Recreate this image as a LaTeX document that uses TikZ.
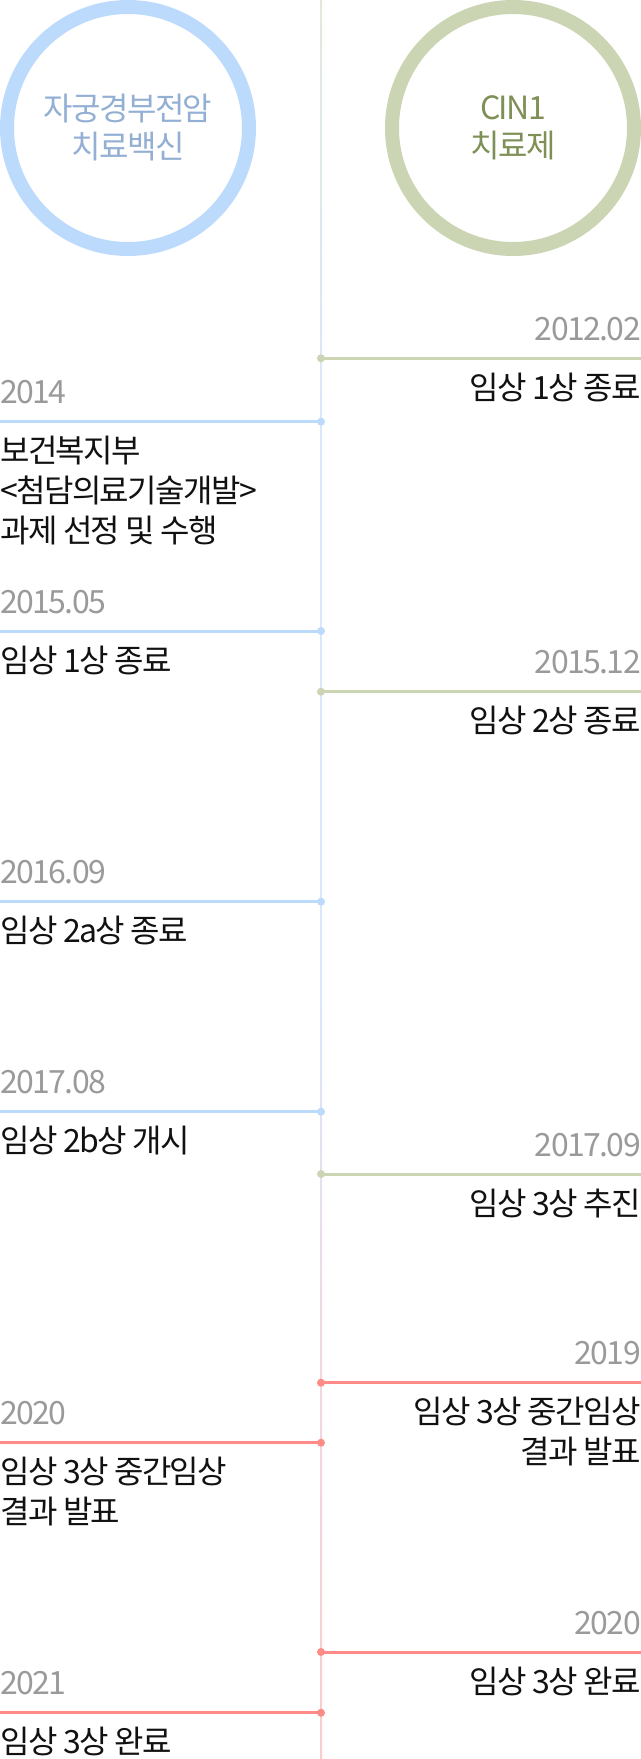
\documentclass[tikz,border=0pt]{standalone}
\usepackage{fontspec}
\setmainfont{Noto Sans CJK KR}[LetterSpace=-5]
\definecolor{vacblue}{HTML}{BCDAFB}
\definecolor{cingreen}{HTML}{CBD5B3}
\definecolor{p3red}{HTML}{FF8B86}
\definecolor{vactext}{HTML}{93AFD3}
\definecolor{cintext}{HTML}{7E9055}
\definecolor{dategray}{HTML}{9A9A9A}
\definecolor{evblack}{HTML}{111111}
\definecolor{axtop}{HTML}{E2E9DC}
\definecolor{axblue}{HTML}{D9E8FB}
\definecolor{axlilac}{HTML}{EEDAE6}
\definecolor{axpink}{HTML}{FBCDCD}
\begin{document}
\begin{tikzpicture}[x=0.75pt, y=-0.75pt,
    vacline/.style={draw=vacblue, line width=2.25pt},
    cinline/.style={draw=cingreen, line width=2.25pt},
    redline/.style={draw=p3red, line width=2.25pt},
    datelbl/.style={font=\fontsize{24}{28}\selectfont, text=dategray, inner sep=0pt},
    evtext/.style={font=\fontsize{24}{30}\selectfont, text=evblack, inner sep=0pt},
    ring/.style={circle, line width=10.5pt, minimum size=181.5pt, inner sep=0pt,
      align=center, font=\fontsize{24}{28.5}\selectfont}]
  \useasboundingbox (0,0) rectangle (641,1759);
  % Central axis (colour fades from top to bottom)
  \shade[top color=axtop, bottom color=axblue] (320,0) rectangle (322,420);
  \fill[axblue] (320,420) rectangle (322,1000);
  \shade[top color=axblue, bottom color=axlilac] (320,1000) rectangle (322,1300);
  \shade[top color=axlilac, bottom color=axpink] (320,1300) rectangle (322,1759);
  % Headers
  \node[ring, draw=vacblue, text=vactext] (vaccine) at (128,128) {자궁경부전암\\치료백신};
  \node[ring, draw=cingreen, text=cintext] (cin) at (513,128) {CIN1\\치료제};
  % Left column: 2014 (base = last line)
  \coordinate (l14a) at (0,421.7); \coordinate (l14b) at (321,421.7);
  \draw[vacline] (l14a) -- (l14b); \fill[vacblue] (l14b) circle (3pt);
  \node[datelbl, anchor=base west] (d14) at (0,403.7) {2014};
  \node[evtext, anchor=base west, align=left] (t14) at (0,542.7) {보건복지부\\<첨담의료기술개발>\\과제 선정 및 수행};
  % Left column: 2015.05
  \coordinate (l155a) at (0,631); \coordinate (l155b) at (321,631);
  \draw[vacline] (l155a) -- (l155b); \fill[vacblue] (l155b) circle (3pt);
  \node[datelbl, anchor=base west] (d155) at (0,613) {2015.05};
  \node[evtext, anchor=base west] (t155) at (0,672) {임상 1상 종료};
  % Left column: 2016.09
  \coordinate (l169a) at (0,901.7); \coordinate (l169b) at (321,901.7);
  \draw[vacline] (l169a) -- (l169b); \fill[vacblue] (l169b) circle (3pt);
  \node[datelbl, anchor=base west] (d169) at (0,883.7) {2016.09};
  \node[evtext, anchor=base west] (t169) at (0,942.7) {임상 2a상 종료};
  % Left column: 2017.08
  \coordinate (l178a) at (0,1111.7); \coordinate (l178b) at (321,1111.7);
  \draw[vacline] (l178a) -- (l178b); \fill[vacblue] (l178b) circle (3pt);
  \node[datelbl, anchor=base west] (d178) at (0,1093.7) {2017.08};
  \node[evtext, anchor=base west] (t178) at (0,1152.7) {임상 2b상 개시};
  % Left column: 2020
  \coordinate (l20a) at (0,1442.7); \coordinate (l20b) at (321,1442.7);
  \draw[redline] (l20a) -- (l20b); \fill[p3red] (l20b) circle (3pt);
  \node[datelbl, anchor=base west] (d20) at (0,1424.7) {2020};
  \node[evtext, anchor=base west, align=left] (t20) at (0,1523.7) {임상 3상 중간임상\\결과 발표};
  % Left column: 2021
  \coordinate (l21a) at (0,1712.7); \coordinate (l21b) at (321,1712.7);
  \draw[redline] (l21a) -- (l21b); \fill[p3red] (l21b) circle (3pt);
  \node[datelbl, anchor=base west] (d21) at (0,1694.7) {2021};
  \node[evtext, anchor=base west] (t21) at (0,1753.7) {임상 3상 완료};
  % Right column: 2012.02
  \coordinate (r122a) at (321,358.3); \coordinate (r122b) at (641,358.3);
  \draw[cinline] (r122a) -- (r122b); \fill[cingreen] (r122a) circle (3pt);
  \node[datelbl, anchor=base east] (d122) at (641,340.3) {2012.02};
  \node[evtext, anchor=base east] (t122) at (641,399.3) {임상 1상 종료};
  % Right column: 2015.12
  \coordinate (r1512a) at (321,691.7); \coordinate (r1512b) at (641,691.7);
  \draw[cinline] (r1512a) -- (r1512b); \fill[cingreen] (r1512a) circle (3pt);
  \node[datelbl, anchor=base east] (d1512) at (641,673.7) {2015.12};
  \node[evtext, anchor=base east] (t1512) at (641,732.7) {임상 2상 종료};
  % Right column: 2017.09
  \coordinate (r179a) at (321,1174); \coordinate (r179b) at (641,1174);
  \draw[cinline] (r179a) -- (r179b); \fill[cingreen] (r179a) circle (3pt);
  \node[datelbl, anchor=base east] (d179) at (641,1156) {2017.09};
  \node[evtext, anchor=base east] (t179) at (641,1215) {임상 3상 추진};
  % Right column: 2019
  \coordinate (r19a) at (321,1382.7); \coordinate (r19b) at (641,1382.7);
  \draw[redline] (r19a) -- (r19b); \fill[p3red] (r19a) circle (3pt);
  \node[datelbl, anchor=base east] (d19) at (641,1364.7) {2019};
  \node[evtext, anchor=base east, align=right] (t19) at (641,1463.7) {임상 3상 중간임상\\결과 발표};
  % Right column: 2020
  \coordinate (r20a) at (321,1652); \coordinate (r20b) at (641,1652);
  \draw[redline] (r20a) -- (r20b); \fill[p3red] (r20a) circle (3pt);
  \node[datelbl, anchor=base east] (d20r) at (641,1634) {2020};
  \node[evtext, anchor=base east] (t20r) at (641,1693) {임상 3상 완료};
\end{tikzpicture}
\end{document}
